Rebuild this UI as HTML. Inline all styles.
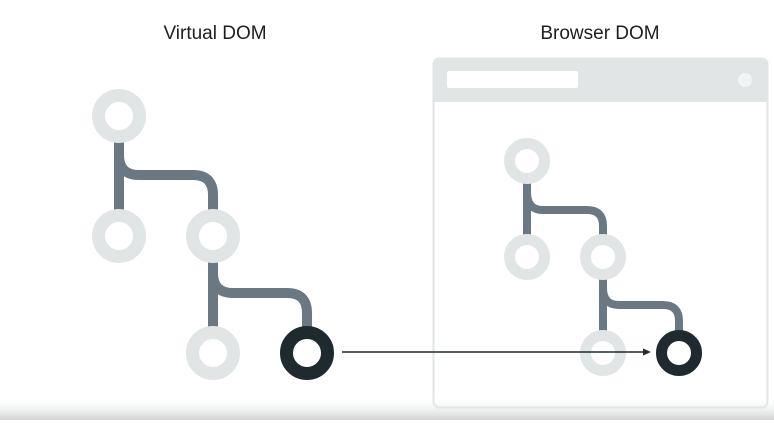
<!DOCTYPE html>
<html><head><style>
body{margin:0;width:774px;height:420px;overflow:hidden;background:#fff;font-family:"Liberation Sans",sans-serif;}
</style></head><body>
<svg width="774" height="420" viewBox="0 0 774 420" xmlns="http://www.w3.org/2000/svg">
<defs>
<linearGradient id="g" x1="0" y1="0" x2="0" y2="1">
<stop offset="0" stop-color="#fff" stop-opacity="0"/>
<stop offset="1" stop-color="#cfd2d3"/>
</linearGradient>
</defs>
<text x="215" y="39" font-size="19" text-anchor="middle" fill="#1c1e21" font-family="Liberation Sans, sans-serif">Virtual DOM</text>
<text x="600" y="39" font-size="19" text-anchor="middle" fill="#1c1e21" font-family="Liberation Sans, sans-serif">Browser DOM</text>
<rect x="433.5" y="58.5" width="334" height="349" rx="6" fill="#fff" stroke="#dfe3e4" stroke-width="2"/>
<path d="M433.5 102 V64.5 a6 6 0 0 1 6 -6 H761.5 a6 6 0 0 1 6 6 V102 Z" fill="#e1e5e6"/>
<rect x="447" y="71" width="131" height="17" rx="2" fill="#fff"/>
<circle cx="745" cy="80" r="7" fill="#f2f4f4"/>
<g fill="none" stroke="#6a7884" stroke-width="10">
<path d="M119 140 V215"/>
<path d="M119 155 Q119 175 139 175 H193 Q213 175 213 195 V215"/>
<path d="M213 258 V335"/>
<path d="M213 273 Q213 293 233 293 H287 Q307 293 307 313 V335"/>
</g>
<g fill="#fff" stroke="#e1e5e6" stroke-width="13">
<circle cx="119" cy="116" r="20.5"/>
<circle cx="119" cy="236" r="20.5"/>
<circle cx="213" cy="236" r="20.5"/>
<circle cx="213" cy="353" r="20.5"/>
</g>
<circle cx="307" cy="353" r="20.5" fill="#fff" stroke="#1f2a2e" stroke-width="13"/>
<g fill="none" stroke="#6a7884" stroke-width="8">
<path d="M527 178 V240"/>
<path d="M527 192 Q527 210 543 210 H587 Q603 210 603 226 V240"/>
<path d="M603 274 V336"/>
<path d="M603 288 Q603 305 619 305 H663 Q679 305 679 321 V336"/>
</g>
<g fill="#fff" stroke="#e1e5e6" stroke-width="11">
<circle cx="527" cy="161" r="17.5"/>
<circle cx="527" cy="257" r="17.5"/>
<circle cx="603" cy="257" r="17.5"/>
<circle cx="603" cy="353" r="17.5"/>
</g>
<circle cx="679" cy="353" r="17.5" fill="#fff" stroke="#1f2a2e" stroke-width="11"/>
<line x1="342" y1="352" x2="645" y2="352" stroke="#1f2a2e" stroke-width="1.5"/>
<path d="M651 352 L643 348.5 L643 355.5 Z" fill="#1f2a2e"/>
<rect x="0" y="396" width="774" height="24" fill="url(#g)"/>
</svg>
</body></html>
